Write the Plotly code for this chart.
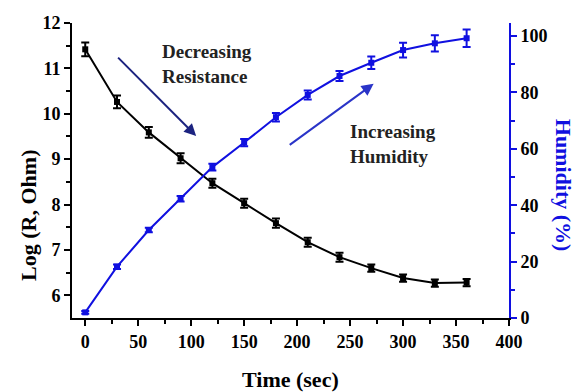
import plotly.graph_objects as go

time_s = [0, 30, 60, 90, 120, 150, 180, 210, 240, 270, 300, 330, 360]
log_r = [11.42, 10.26, 9.59, 9.02, 8.47, 8.03, 7.59, 7.17, 6.84, 6.60, 6.38, 6.27, 6.28]
log_r_err = [0.15, 0.14, 0.12, 0.11, 0.1, 0.1, 0.1, 0.1, 0.1, 0.08, 0.08, 0.08, 0.08]
humidity = [2.0, 18.2, 31.2, 42.3, 53.5, 62.2, 71.2, 79.1, 85.8, 90.5, 95.0, 97.4, 99.2]
humidity_err = [0.5, 0.8, 0.8, 1.0, 1.2, 1.3, 1.5, 1.6, 1.8, 2.2, 2.6, 2.9, 3.1]

FONT = "Liberation Serif"
BLUE = "#1010e0"

fig = go.Figure()
fig.add_trace(go.Scatter(
    x=time_s, y=log_r, mode="lines+markers",
    line=dict(color="black", width=2),
    marker=dict(symbol="square", size=6, color="black"),
    error_y=dict(type="data", array=log_r_err, color="black", thickness=2, width=4),
    yaxis="y", xaxis="x", showlegend=False))
fig.add_trace(go.Scatter(
    x=time_s, y=humidity, mode="lines+markers",
    line=dict(color=BLUE, width=2),
    marker=dict(symbol="square", size=6, color=BLUE),
    error_y=dict(type="data", array=humidity_err, color=BLUE, thickness=2, width=4),
    yaxis="y2", xaxis="x", showlegend=False))

fig.update_layout(
    width=574, height=384,
    margin=dict(l=64, r=73, t=15, b=74, autoexpand=False),
    paper_bgcolor="white", plot_bgcolor="white",
    font=dict(family=FONT),
    xaxis=dict(range=[-12.5, 400], tickvals=[0, 50, 100, 150, 200, 250, 300, 350, 400],
               ticks="outside", ticklen=6, tickwidth=2, tickcolor="black",
               minor=dict(tickvals=[25, 75, 125, 175, 225, 275, 325, 375], ticks="outside",
                          ticklen=4, tickwidth=2, tickcolor="black"),
               showline=True, linecolor="black", linewidth=2, showgrid=False, zeroline=False,
               automargin=False,
               tickfont=dict(family=FONT, size=18, color="black", weight="bold")),
    xaxis2=dict(range=[-12.5, 400], overlaying="x", side="top",
                tickvals=[0, 50, 100, 150, 200, 250, 300, 350, 400],
                ticks="inside", ticklen=6, tickwidth=2, tickcolor="black",
                minor=dict(tickvals=[25, 75, 125, 175, 225, 275, 325, 375], ticks="inside",
                           ticklen=4, tickwidth=2, tickcolor="black"),
                showticklabels=False, showline=True, linecolor="black", linewidth=2,
                showgrid=False, zeroline=False, automargin=False),
    yaxis=dict(range=[5.5, 12], tickvals=[6, 7, 8, 9, 10, 11, 12],
               ticks="outside", ticklen=6, tickwidth=2, tickcolor="black",
               minor=dict(tickvals=[6.5, 7.5, 8.5, 9.5, 10.5, 11.5], ticks="outside",
                          ticklen=4, tickwidth=2, tickcolor="black"),
               showline=True, linecolor="black", linewidth=2, showgrid=False, zeroline=False,
               automargin=False,
               tickfont=dict(family=FONT, size=18, color="black", weight="bold")),
    yaxis2=dict(range=[0, 104.6], overlaying="y", side="right",
                tickvals=[0, 20, 40, 60, 80, 100],
                ticks="outside", ticklen=6, tickwidth=2, tickcolor=BLUE,
                minor=dict(tickvals=[10, 30, 50, 70, 90], ticks="outside",
                           ticklen=4, tickwidth=2, tickcolor=BLUE),
                showline=True, linecolor=BLUE, linewidth=2, showgrid=False, zeroline=False,
                automargin=False,
                tickfont=dict(family=FONT, size=18, color="black", weight="bold")),
)

# Axis titles
fig.add_annotation(text="Time (sec)", xref="paper", yref="paper", x=0.5, y=-0.207,
                   xanchor="center", yanchor="middle", showarrow=False,
                   font=dict(family=FONT, size=22, color="black", weight="bold"))
fig.add_annotation(text="Log (R, Ohm)", xref="paper", yref="paper", x=-0.101, y=0.349,
                   xanchor="center", yanchor="middle", showarrow=False, textangle=-90,
                   font=dict(family=FONT, size=22, color="black", weight="bold"))
fig.add_annotation(text="Humidity (%)", xref="paper", yref="paper", x=1.124, y=0.451,
                   xanchor="center", yanchor="middle", showarrow=False, textangle=90,
                   font=dict(family=FONT, size=22, color=BLUE, weight="bold"))

# Text labels
fig.add_annotation(text="Decreasing<br>Resistance", xref="x", yref="y", x=71, y=11.1,
                   xanchor="left", yanchor="middle", showarrow=False, align="left",
                   font=dict(family=FONT, size=19, color="#222222", weight="bold"))
fig.add_annotation(text="Increasing<br>Humidity", xref="x", yref="y", x=248, y=9.33,
                   xanchor="left", yanchor="middle", showarrow=False, align="left",
                   font=dict(family=FONT, size=19, color="#222222", weight="bold"))

# Arrows
fig.add_annotation(x=104.7, y=9.51, ax=29.6, ay=11.27, xref="x", yref="y", axref="x", ayref="y",
                   text="", showarrow=True, arrowhead=2, arrowsize=1.2, arrowwidth=2,
                   arrowcolor="#1c2380")
fig.add_annotation(x=272.2, y=10.66, ax=191.6, ay=9.29, xref="x", yref="y", axref="x", ayref="y",
                   text="", showarrow=True, arrowhead=2, arrowsize=1.2, arrowwidth=2,
                   arrowcolor="#2a34c8")

fig.write_html("out.html")
